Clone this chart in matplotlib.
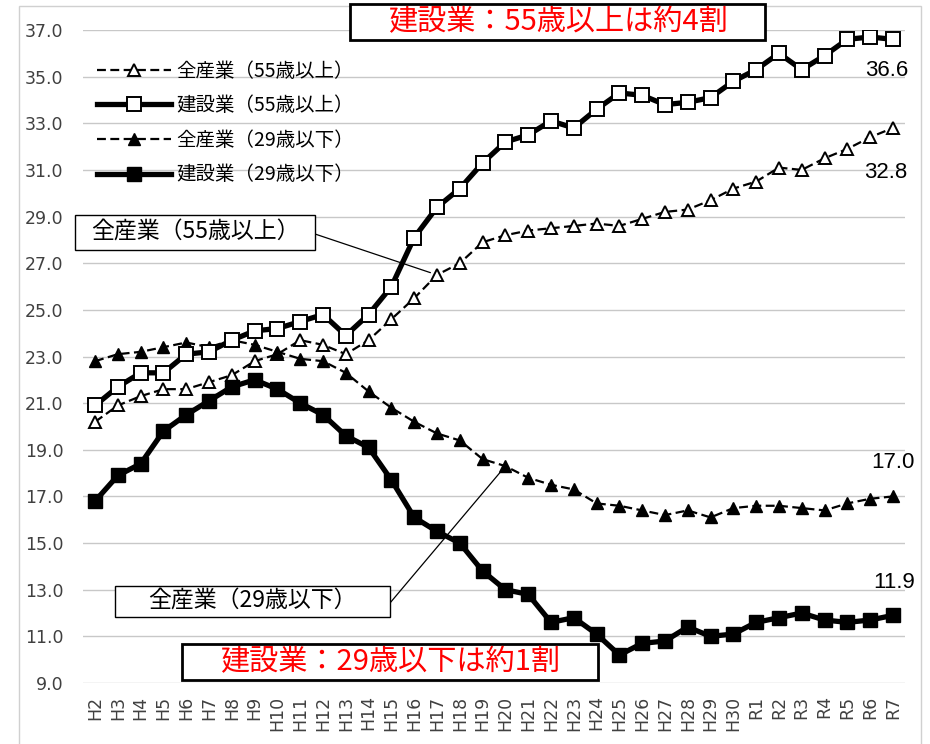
import matplotlib.pyplot as plt
from matplotlib.patches import Rectangle

plt.rcParams['font.family'] = ['Noto Sans CJK JP', 'DejaVu Sans']

# years
years = ['H' + str(i) for i in range(2, 31)] + ['R' + str(i) for i in range(1, 8)]

# share of workers (%)
all_55 = [20.2, 20.9, 21.3, 21.6, 21.6, 21.9, 22.2, 22.8, 23.1, 23.7, 23.5, 23.1, 23.7, 24.6,
          25.5, 26.5, 27.0, 27.9, 28.2, 28.4, 28.5, 28.6, 28.7, 28.6, 28.9, 29.2, 29.3, 29.7,
          30.2, 30.5, 31.1, 31.0, 31.5, 31.9, 32.4, 32.8]
con_55 = [20.9, 21.7, 22.3, 22.3, 23.1, 23.2, 23.7, 24.1, 24.2, 24.5, 24.8, 23.9, 24.8, 26.0,
          28.1, 29.4, 30.2, 31.3, 32.2, 32.5, 33.1, 32.8, 33.6, 34.3, 34.2, 33.8, 33.9, 34.1,
          34.8, 35.3, 36.0, 35.3, 35.9, 36.6, 36.7, 36.6]
all_29 = [22.8, 23.1, 23.2, 23.4, 23.6, 23.4, 23.7, 23.5, 23.2, 22.9, 22.8, 22.3, 21.5, 20.8,
          20.2, 19.7, 19.4, 18.6, 18.3, 17.8, 17.5, 17.3, 16.7, 16.6, 16.4, 16.2, 16.4, 16.1,
          16.5, 16.6, 16.6, 16.5, 16.4, 16.7, 16.9, 17.0]
con_29 = [16.8, 17.9, 18.4, 19.8, 20.5, 21.1, 21.7, 22.0, 21.6, 21.0, 20.5, 19.6, 19.1, 17.7,
          16.1, 15.5, 15.0, 13.8, 13.0, 12.8, 11.6, 11.8, 11.1, 10.2, 10.7, 10.8, 11.4, 11.0,
          11.1, 11.6, 11.8, 12.0, 11.7, 11.6, 11.7, 11.9]

labels = ['全産業（55歳以上）', '建設業（55歳以上）', '全産業（29歳以下）', '建設業（29歳以下）']

W, H = 930, 744
fig = plt.figure(figsize=(9.3, 7.44), dpi=100)
ax = fig.add_axes([83 / W, 1 - 683 / H, (905 - 83) / W, (683 - 30) / H])
x = list(range(len(years)))

ax.plot(x, all_55, color='black', lw=1.6, ls=(0, (4, 2)), marker='^', ms=9,
        mfc='white', mec='black', mew=1.4, label=labels[0], zorder=3)
ax.plot(x, con_55, color='black', lw=3.8, marker='s', ms=10,
        mfc='white', mec='black', mew=1.4, label=labels[1], zorder=4)
ax.plot(x, all_29, color='black', lw=1.6, ls=(0, (4, 2)), marker='^', ms=8,
        mfc='black', mec='black', label=labels[2], zorder=3)
ax.plot(x, con_29, color='black', lw=3.8, marker='s', ms=10,
        mfc='black', mec='black', label=labels[3], zorder=4)

num_font = ['Liberation Sans', 'DejaVu Sans']
ax.set_ylim(9, 37)
ax.set_xlim(-0.53, len(years) - 1 + 0.53)
ax.set_yticks([9 + 2 * i for i in range(15)])
ax.set_yticklabels(['%.1f' % (9 + 2 * i) for i in range(15)], fontsize=12.5,
                   family='DejaVu Sans', color='#404040')
ax.set_xticks(x)
ax.set_xticklabels(years, rotation=90, fontsize=12.5, family='DejaVu Sans', color='#404040')
ax.tick_params(axis='y', length=0, pad=14)
ax.tick_params(axis='x', length=0, pad=9)
ax.grid(axis='y', color='#c8c8c8', lw=1)
ax.set_axisbelow(True)
for s in ax.spines.values():
    s.set_visible(False)

ax.legend(loc='upper left', bbox_to_anchor=(0.0, 0.974), frameon=False, fontsize=14,
          handlelength=3.8, handletextpad=0.3, labelspacing=0.7, borderaxespad=0.3)

# end values
ax.text(908 / W, 1 - 70 / H, '36.6', transform=fig.transFigure, ha='right', va='center', fontsize=16, family=num_font)
ax.text(907 / W, 1 - 172 / H, '32.8', transform=fig.transFigure, ha='right', va='center', fontsize=16, family=num_font)
ax.text(915 / W, 1 - 463 / H, '17.0', transform=fig.transFigure, ha='right', va='center', fontsize=16, family=num_font)
ax.text(915 / W, 1 - 582 / H, '11.9', transform=fig.transFigure, ha='right', va='center', fontsize=16, family=num_font)

# callouts: box, text and leader line
def callout(x0, y0, x1, y1, text, xi, yi, ly):
    fig.patches.append(Rectangle((x0 / W, 1 - y1 / H), (x1 - x0) / W, (y1 - y0) / H,
                                 transform=fig.transFigure, fc='white', ec='black', lw=1, zorder=6))
    fig.text((x0 + x1) / 2 / W, 1 - (y0 + y1) / 2 / H, text, ha='center', va='center',
             fontsize=16.5, zorder=7)
    ax.annotate('', xy=(xi, yi), xytext=(x1 / W, 1 - ly / H), textcoords='figure fraction',
                arrowprops=dict(arrowstyle='-', color='black', lw=0.9, shrinkA=0, shrinkB=5), zorder=5)

callout(75, 215, 315, 250, '全産業（55歳以上）', 15, all_55[15], 234)
callout(115, 586, 390, 617, '全産業（29歳以下）', 18, all_29[18], 603)

# headline boxes
def headline(x0, y0, x1, y1, text):
    fig.patches.append(Rectangle((x0 / W, 1 - y1 / H), (x1 - x0) / W, (y1 - y0) / H,
                                 transform=fig.transFigure, fc='white', ec='black', lw=2, zorder=6))
    fig.text((x0 + x1) / 2 / W, 1 - (y0 + y1) / 2 / H, text, ha='center', va='center',
             fontsize=21, color='#ff0000', zorder=7)

headline(350, 4, 765, 40, '建設業：55歳以上は約4割')
headline(182, 644, 598, 680, '建設業：29歳以下は約1割')

fig.patches.append(Rectangle((19 / W, -0.01), (921 - 19) / W, 1 - 6 / H + 0.01,
                             transform=fig.transFigure, fill=False, ec='#d0d0d0', lw=1))

fig.savefig('out.png', dpi=100)
